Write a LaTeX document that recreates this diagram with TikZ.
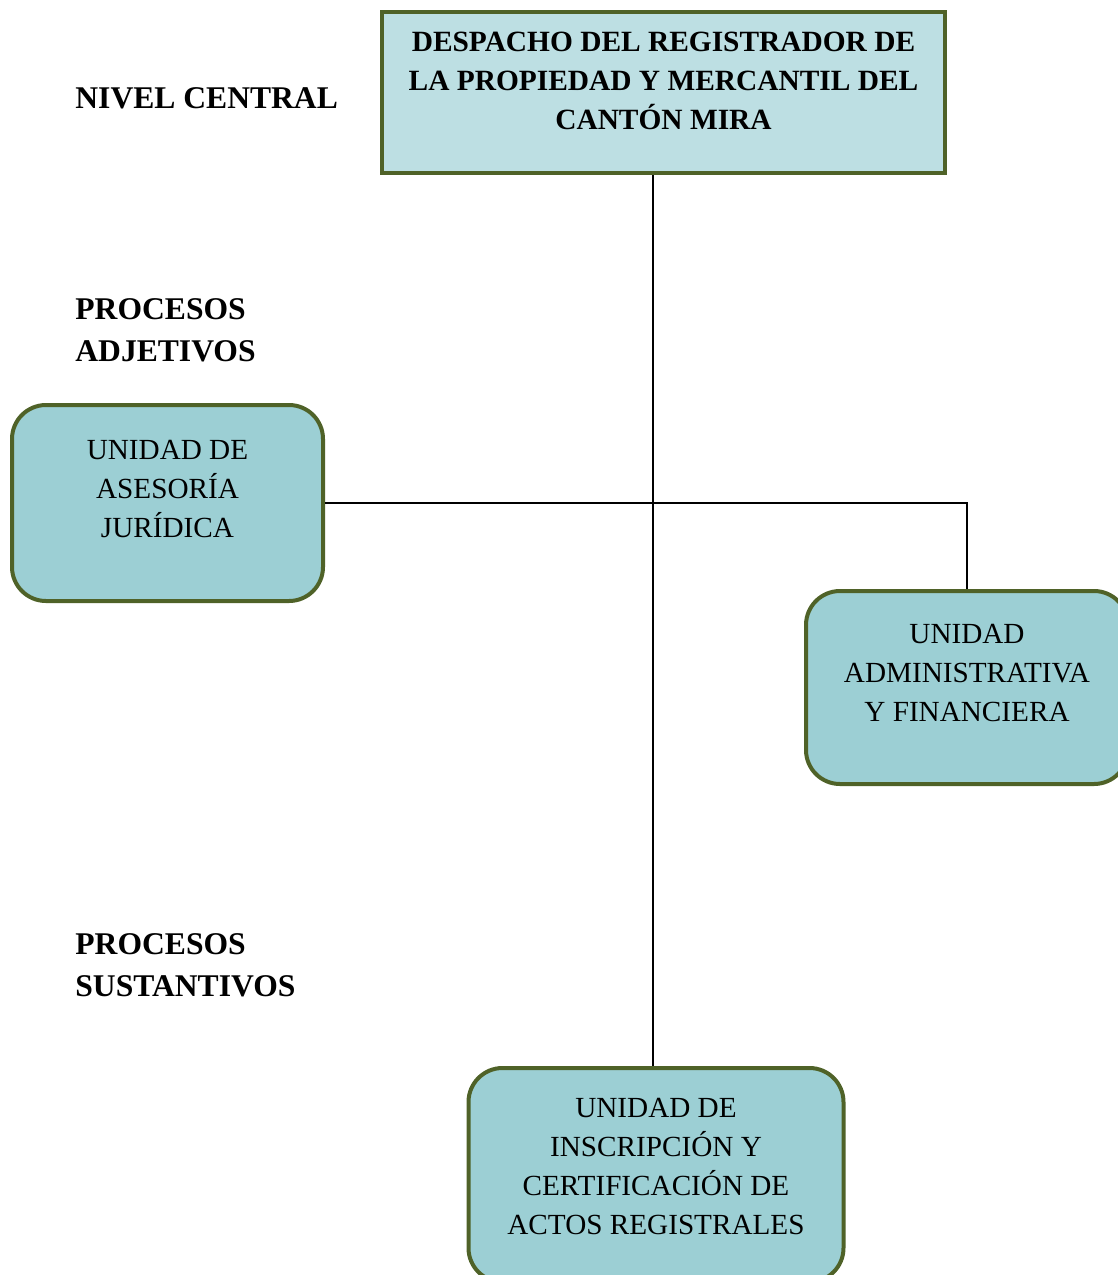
\documentclass[tikz,border=0pt]{standalone}
\usepackage{fontspec}
\setmainfont{Liberation Serif}
\usetikzlibrary{positioning}

\definecolor{olivebd}{HTML}{4F6228}
\definecolor{topfill}{HTML}{BDDFE3}
\definecolor{unitfill}{HTML}{9CCFD4}

\begin{document}
\begin{tikzpicture}[x=0.5pt, y=-0.5pt,
        line/.style={line width=0.75pt, color=black},
        topbox/.style={draw=olivebd, line width=2pt, fill=topfill},
        unitbox/.style={draw=olivebd, line width=2pt, fill=unitfill, rounded corners=17pt},
        toptext/.style={align=center, inner sep=0pt, font=\fontsize{14.7}{19.5}\selectfont\bfseries},
        unittext/.style={align=center, inner sep=0pt, font=\fontsize{14.6}{19.5}\selectfont},
        nivel/.style={align=left, anchor=west, inner sep=0pt, font=\fontsize{15.8}{21}\selectfont\bfseries}]
        \useasboundingbox (0, 0) rectangle (1118, 1275);

        % levels
        \node[nivel] (central) at (75, 98) {NIVEL CENTRAL};
        \node[nivel] (adjetivos) at (75, 330) {PROCESOS\\ADJETIVOS};
        \node[nivel] (sustantivos) at (75, 965) {PROCESOS\\SUSTANTIVOS};

        % boxes
        \node[topbox, minimum width=281.5pt, minimum height=80.5pt] (despacho) at (663.5, 92.5) {};
        \node[unitbox, minimum width=155.5pt, minimum height=98pt] (asesoria) at (167.5, 503) {};
        \node[unitbox, minimum width=161pt, minimum height=96.5pt] (administrativa) at (967, 687.5) {};
        \node[unitbox, minimum width=187.5pt, minimum height=107pt] (inscripcion) at (656, 1175) {};

        % texts
        \node[toptext] (despachotxt) at ([yshift=6pt]despacho.center) {DESPACHO DEL REGISTRADOR DE\\LA PROPIEDAD Y MERCANTIL DEL\\CANTÓN MIRA};
        \node[unittext] (asesoriatxt) at ([yshift=7pt]asesoria.center) {UNIDAD DE\\ASESORÍA\\JURÍDICA};
        \node[unittext] (administrativatxt) at ([yshift=7.5pt]administrativa.center) {UNIDAD\\ADMINISTRATIVA\\Y FINANCIERA};
        \node[unittext] (inscripciontxt) at ([yshift=4.5pt]inscripcion.center) {UNIDAD DE\\INSCRIPCIÓN Y\\CERTIFICACIÓN DE\\ACTOS REGISTRALES};

        % connectors
        \coordinate (spine) at (653, 175);
        \draw[line] (spine) -- (spine |- inscripcion.north);
        \draw[line] (asesoria.east) -- (asesoria.east -| administrativa.north) -- (administrativa.north);
    \end{tikzpicture}
\end{document}
